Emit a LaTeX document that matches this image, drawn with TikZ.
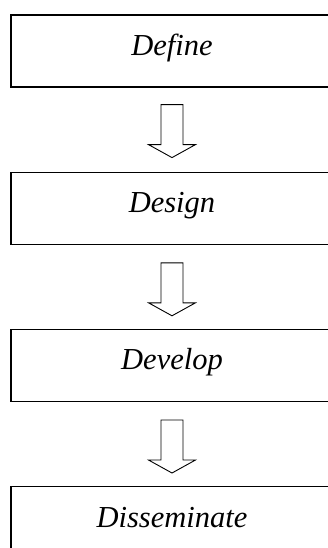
\documentclass[tikz,border=0pt]{standalone}
\usepackage{fontspec}
\setmainfont{Liberation Serif}
\usetikzlibrary{positioning,calc}

\tikzset{
  stagebox/.style={draw,rectangle,line width=1.2pt,minimum width=322pt,minimum height=72pt,inner sep=0pt},
  stagetext/.style={anchor=base,inner sep=0pt,font=\fontsize{30.5}{34}\selectfont\itshape},
  pics/blockdown/.style={code={
    \draw[line width=0.9pt,fill=white] (-11pt,0pt) -- (-11pt,-40pt) -- (-23.5pt,-40pt) -- (0pt,-53pt)
      -- (23.5pt,-40pt) -- (11pt,-40pt) -- (11pt,0pt) -- cycle;
  }}
}

\begin{document}
\begin{tikzpicture}[x=1pt,y=1pt,node distance=84pt]
        \useasboundingbox (0,0) rectangle (328,-548);
        \clip (0,0) rectangle (328,-548);
        \node [stagebox] at (172,-51) (define) {};
        \node [stagebox,below=of define] (design) {};
        \node [stagebox,below=of design] (develop) {};
        \node [stagebox,below=of develop] (disseminate) {};
        \node [stagetext] at ($(define.center)+(0,-4.5pt)$) (definetxt) {Define};
        \node [stagetext] at ($(design.center)+(0,-4.5pt)$) (designtxt) {Design};
        \node [stagetext] at ($(develop.center)+(0,-4.5pt)$) (developtxt) {Develop};
        \node [stagetext] at ($(disseminate.center)+(0,-4.5pt)$) (disseminatetxt) {Disseminate};
        \pic at ($(define.south)+(0,-17pt)$) {blockdown};
        \pic at ($(design.south)+(0,-18pt)$) {blockdown};
        \pic at ($(develop.south)+(0,-18pt)$) {blockdown};
        \end{tikzpicture}
\end{document}
